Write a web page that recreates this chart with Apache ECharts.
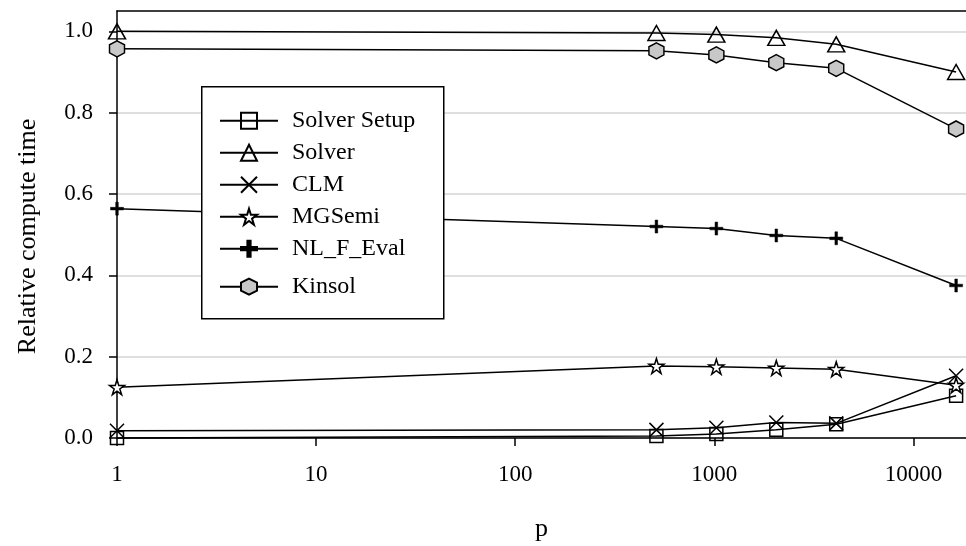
<!DOCTYPE html>
<html>
<head>
<meta charset="utf-8">
<script src="https://cdn.jsdelivr.net/npm/echarts@6/dist/echarts.min.js"></script>
<style>html,body{margin:0;padding:0;background:#fff;}#c{width:966px;height:546px;}</style>
</head>
<body>
<div id="c"></div>
<script>
const xValues = [1, 512, 1024, 2048, 4096, 16384];
const solverSetup = [0.0, 0.005, 0.01, 0.02, 0.034, 0.104];
const solver = [1.0, 0.996, 0.992, 0.984, 0.968, 0.90];
const clm = [0.018, 0.02, 0.025, 0.038, 0.036, 0.153];
const mgsemi = [0.125, 0.177, 0.175, 0.172, 0.169, 0.13];
const nlfeval = [0.564, 0.52, 0.515, 0.498, 0.491, 0.375];
const kinsol = [0.957, 0.952, 0.942, 0.923, 0.909, 0.760];
const seriesNames = ['Solver Setup', 'Solver', 'CLM', 'MGSemi', 'NL_F_Eval', 'Kinsol'];
const xTicks = [1, 10, 100, 1000, 10000];
const xTickLabels = ['1', '10', '100', '1000', '10000'];
const yTicks = [0, 0.2, 0.4, 0.6, 0.8, 1.0];
const yTickLabels = ['0.0', '0.2', '0.4', '0.6', '0.8', '1.0'];

const FONT = 'Liberation Serif';
const STAR = 'path://M50,0 L61.17,34.63 L97.55,34.55 L68.07,55.87 L79.39,90.45 L50,69 L20.61,90.45 L31.93,55.87 L2.45,34.55 L38.83,34.63 Z';
const HEX = 'path://M50,0 L93.3,25 L93.3,75 L50,100 L6.7,75 L6.7,25 Z';
const XMARK = 'path://M0,0 L10,10 M10,0 L0,10';
const PLUS = 'path://M4,0 H6 V4 H10 V6 H6 V10 H4 V6 H0 V4 H4 Z';

function mk(name, vals, symbol, size, fill, bw) {
  return {
    name: name, type: 'line',
    data: xValues.map((x, i) => [x, vals[i]]),
    symbol: symbol, symbolSize: size, showSymbol: true,
    lineStyle: { color: '#000', width: 1.5 },
    itemStyle: { color: fill, borderColor: '#000', borderWidth: bw },
    emphasis: { disabled: true },
    clip: false, z: 2
  };
}

const chart = echarts.init(document.getElementById('c'));
const legendBase = {
  orient: 'vertical', left: 219, itemWidth: 58, itemHeight: 20, itemGap: 8, padding: 0,
  z: 110, selectedMode: false,
  textStyle: { fontFamily: FONT, fontSize: 24, lineHeight: 24, color: '#000', padding: [0, 0, 0, 9] }
};
chart.setOption({
  animation: false,
  backgroundColor: '#fff',
  textStyle: { fontFamily: FONT },
  grid: { left: 117, right: 0, top: 11, bottom: 108, outerBoundsMode: 'none', containLabel: false },
  xAxis: [{
    type: 'log', min: 1, max: 18370, logBase: 10,
    name: 'p', nameLocation: 'middle', nameGap: 78,
    nameTextStyle: { fontFamily: FONT, fontSize: 26, color: '#000' },
    axisLine: { lineStyle: { color: '#000', width: 1.5 } },
    axisTick: { show: true, length: 8, lineStyle: { color: '#000', width: 1.5 }, customValues: xTicks },
    axisLabel: { fontFamily: FONT, fontSize: 23, color: '#000', margin: 25, customValues: xTicks,
      formatter: v => { const i = xTicks.indexOf(Math.round(v)); return i >= 0 ? xTickLabels[i] : ''; } },
    splitLine: { show: false }, minorTick: { show: false }
  }, {
    type: 'value', position: 'top', min: 0, max: 1,
    axisLine: { show: true, lineStyle: { color: '#000', width: 1.5 } },
    axisTick: { show: false }, axisLabel: { show: false }, splitLine: { show: false }
  }],
  yAxis: {
    type: 'value', min: 0, max: 1.05,
    name: 'Relative compute time', nameLocation: 'middle', nameGap: 76,
    nameTextStyle: { fontFamily: FONT, fontSize: 26, color: '#000', padding: [0, 24, 0, 0] },
    axisLine: { show: true, lineStyle: { color: '#000', width: 1.5 } },
    axisTick: { show: true, length: 8, lineStyle: { color: '#000', width: 1.5 }, customValues: yTicks },
    axisLabel: { fontFamily: FONT, fontSize: 23, color: '#000', margin: 24, customValues: yTicks,
      formatter: v => { const i = yTicks.findIndex(t => Math.abs(t - v) < 1e-6); return i >= 0 ? yTickLabels[i] : ''; } },
    splitLine: { show: true, lineStyle: { color: '#d4d4d4', width: 1.5 } }
  },
  legend: [
    Object.assign({}, legendBase, { top: 108.7, data: seriesNames.slice(0, 5) }),
    Object.assign({}, legendBase, { top: 274.7, data: seriesNames.slice(5) })
  ],
  graphic: [{
    type: 'rect', z: 100, left: 201, top: 86,
    shape: { width: 242, height: 232 },
    style: { fill: '#fff', stroke: '#000', lineWidth: 1.5 }
  }],
  series: [
    mk(seriesNames[0], solverSetup, 'rect', 13, 'rgba(255,255,255,0)', 1.5),
    mk(seriesNames[1], solver, 'triangle', [17, 15], 'rgba(255,255,255,0)', 1.5),
    mk(seriesNames[2], clm, XMARK, 14, '#000', 1.5),
    mk(seriesNames[3], mgsemi, STAR, 15, '#fff', 1.5),
    mk(seriesNames[4], nlfeval, PLUS, 13, '#000', 0.5),
    mk(seriesNames[5], kinsol, HEX, [15, 16], '#c8c8c8', 1.5)
  ]
});
</script>
</body>
</html>
